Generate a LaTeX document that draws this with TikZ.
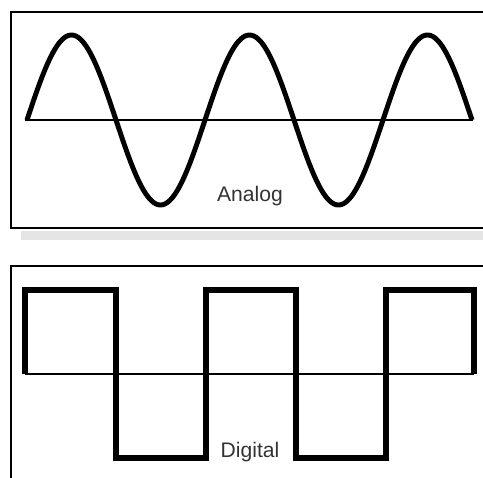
\documentclass[tikz,border=0pt]{standalone}
\usepackage{fontspec}
\setmainfont{Liberation Sans}
\usetikzlibrary{positioning,calc}

\begin{document}
\begin{tikzpicture}[
  x=0.02cm, y=-0.02cm,
  frame/.style={draw=black, line width=1.3pt},
  axis/.style={draw=black, line width=1.1pt},
  wave/.style={draw=black, line width=2.8pt, line join=round},
  pulse/.style={draw=black, line width=3.3pt, line join=miter},
  tag/.style={font=\fontsize{12}{14}\selectfont, text=black!80, inner sep=1pt}
]
\useasboundingbox (0,0) rectangle (483,477);
\clip (0,0) rectangle (483,477);

% Analog panel
\fill[black!10] (21,231) rectangle (495,240);
\draw[frame] (11,12) rectangle (495,228);
\draw[axis] (25,120) -- (473,120);
\draw[wave] plot[domain=27:472, samples=240] (\x, {120 - 85*sin((\x-27)*2.0225)});
\node[tag] (analog) at (250,196) {Analog};

% Digital panel
\draw[frame] (11,266) rectangle (495,490);
\draw[axis] (25,374) -- (474,374);
\draw[pulse] (25,374) -- (25,290) -- (116,290) -- (116,458) -- (206,458)
  -- (206,290) -- (296,290) -- (296,458) -- (386,458) -- (386,290)
  -- (474,290) -- (474,374);
\node[tag] (digital) at (250,452) {Digital};
\end{tikzpicture}
\end{document}
